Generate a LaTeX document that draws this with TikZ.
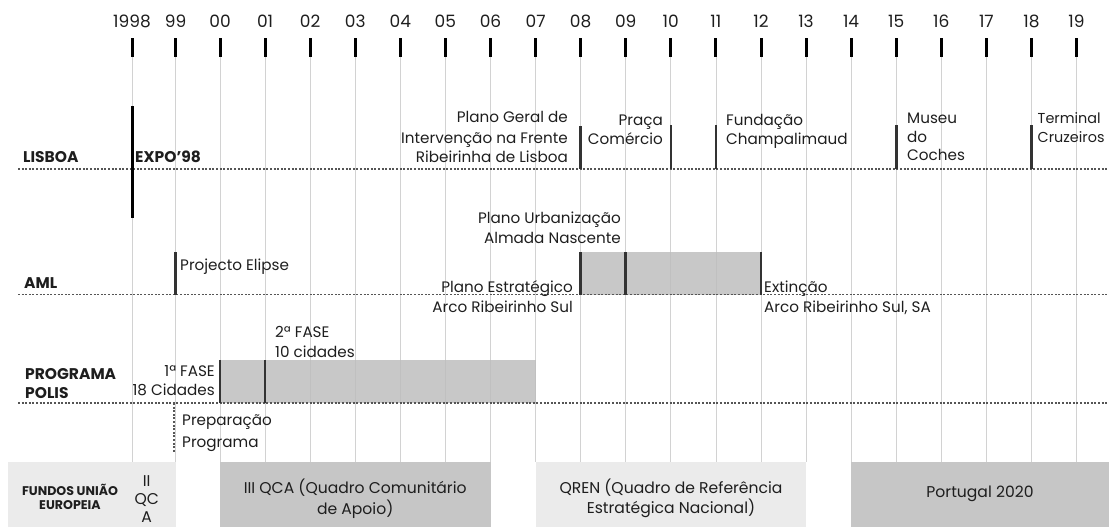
\documentclass[tikz,border=0pt]{standalone}
\usepackage{fontspec}
\setmainfont{Poppins}
\definecolor{ink}{HTML}{1E1E1E}
\definecolor{gridc}{HTML}{D2D2D2}
\definecolor{fillc}{HTML}{BEBEBE}
\definecolor{lightband}{HTML}{EBEBEB}
\definecolor{darkband}{HTML}{C6C6C6}
\definecolor{barc}{HTML}{333333}
\definecolor{rowc}{HTML}{555555}
\begin{document}
\begin{tikzpicture}[x=1pt,y=-1pt,
  gridline/.style={draw=gridc,line width=0.8pt},
  yeartick/.style={draw=black,line width=3pt},
  rowline/.style={draw=rowc,line width=1.1pt,dash pattern=on 2pt off 1.6pt},
  evbar/.style={draw=barc,line width=2.6pt},
  phase/.style={fill=fillc,fill opacity=0.85},
  txt/.style={inner sep=0pt,text=ink,font=\fontsize{15.2}{19}\selectfont},
  lbl/.style={inner sep=0pt,text=ink,font=\fontsize{15.5}{19}\selectfont\bfseries},
  yr/.style={inner sep=0pt,text=ink,font=\fontsize{17}{19}\selectfont},
  bandtxt/.style={inner sep=0pt,text=ink,font=\fontsize{15.6}{20.5}\selectfont,align=center},
  bandlbl/.style={inner sep=0pt,text=ink,font=\fontsize{12.6}{14}\selectfont\bfseries,align=center}]
\useasboundingbox (0,0) rectangle (1109,528);
% year grid, ticks and labels
\foreach \xx/\lab [count=\i] in {132/1998,175.5/99,220/00,265.1/01,310.2/02,355.2/03,400.3/04,445.4/05,490.5/06,535.6/07,580.6/08,625.7/09,670.8/10,715.9/11,761/12,806/13,851.1/14,896.2/15,941.3/16,986.4/17,1031.4/18,1076.5/19}{
  \draw[gridline] (\xx,57) -- (\xx,462);
  \draw[yeartick] (\xx,38) -- (\xx,57);
  \node[yr,anchor=base] (yr\i) at (\xx,27.5) {\lab};
}
% phase fills
\fill[phase] (580.6,252) rectangle (761,294.5);
\fill[phase] (220,360) rectangle (535.6,403);
% row lines
\draw[rowline] (18,169) -- (1109,169);
\draw[rowline] (18,294.5) -- (1109,294.5);
\draw[rowline] (18,403) -- (1109,403);
% LISBOA
\node[lbl,anchor=base west] (lisboa) at (23,162.5) {LISBOA};
\draw[draw=black,line width=3pt] (132,106) -- (132,218);
\node[lbl,anchor=base west] (expo) at (135,162.5) {EXPO'98};
\node[txt,anchor=base east] (pg1) at (568,122.5) {Plano Geral de};
\node[txt,anchor=base east] (pg2) at (568,143) {Intervenção na Frente};
\node[txt,anchor=base east] (pg3) at (568,162.5) {Ribeirinha de Lisboa};
\draw[evbar] (580.6,126) -- (580.6,169);
\node[txt,anchor=base east] (pc1) at (663,125.5) {Praça};
\node[txt,anchor=base east] (pc2) at (663,144.5) {Comércio};
\draw[evbar] (670.8,125) -- (670.8,169);
\draw[evbar] (715.9,125) -- (715.9,169);
\node[txt,anchor=base west] (fc1) at (726,125.5) {Fundação};
\node[txt,anchor=base west] (fc2) at (726,144.5) {Champalimaud};
\draw[evbar] (896.2,125) -- (896.2,169);
\node[txt,anchor=base west] (mc1) at (907,123.5) {Museu};
\node[txt,anchor=base west] (mc2) at (907,142) {do};
\node[txt,anchor=base west] (mc3) at (907,160.5) {Coches};
\draw[evbar] (1031.4,125) -- (1031.4,169);
\node[txt,anchor=base west,font=\fontsize{14.4}{19}\selectfont] (tc1) at (1037.5,123.5) {Terminal};
\node[txt,anchor=base west,font=\fontsize{14.4}{19}\selectfont] (tc2) at (1037.5,142) {Cruzeiros};
% AML
\node[lbl,anchor=base west] (aml) at (24,288.5) {AML};
\draw[evbar] (175.5,252) -- (175.5,294.5);
\node[txt,anchor=base west] (pe) at (180,270.5) {Projecto Elipse};
\draw[evbar] (580.6,252) -- (580.6,294.5);
\draw[evbar] (625.7,252) -- (625.7,294.5);
\draw[evbar] (761,252) -- (761,294.5);
\node[txt,anchor=base east] (pu1) at (621,223.5) {Plano Urbanização};
\node[txt,anchor=base east] (pu2) at (621,243.5) {Almada Nascente};
\node[txt,anchor=base east] (ps1) at (573,292.5) {Plano Estratégico};
\node[txt,anchor=base east] (ps2) at (573,312.5) {Arco Ribeirinho Sul};
\node[txt,anchor=base west] (ex1) at (764,292.5) {Extinção};
\node[txt,anchor=base west] (ex2) at (764,312.5) {Arco Ribeirinho Sul, SA};
% POLIS
\node[lbl,anchor=base west] (prog) at (25,379.5) {PROGRAMA};
\node[lbl,anchor=base west] (polis) at (25,398.5) {POLIS};
\draw[evbar] (220,360) -- (220,403);
\draw[evbar] (265.1,360) -- (265.1,403);
\node[txt,anchor=base east] (f1a) at (215,376.5) {1ª FASE};
\node[txt,anchor=base east] (f1b) at (215,395.5) {18 Cidades};
\node[txt,anchor=base west] (f2a) at (275,337.5) {2ª FASE};
\node[txt,anchor=base west] (f2b) at (275,357.5) {10 cidades};
\draw[rowline] (174,403) -- (174,452);
\node[txt,anchor=base west] (pp1) at (182,425.5) {Preparação};
\node[txt,anchor=base west] (pp2) at (182,447) {Programa};
% EU funds band
\fill[lightband] (8,462) rectangle (176,527);
\fill[darkband] (220,462) rectangle (490.5,527);
\fill[lightband] (535.6,462) rectangle (806,527);
\fill[darkband] (851.1,462) rectangle (1109,527);
\node[bandlbl] (fundos) at (70,497) {FUNDOS UNIÃO\\EUROPEIA};
\node[bandtxt,font=\fontsize{15.6}{18}\selectfont] (qca2) at (146.7,499.5) {II\\QC\\A};
\node[bandtxt] (qca3) at (355.2,498.5) {III QCA (Quadro Comunitário\\de Apoio)};
\node[bandtxt] (qren) at (671,498.5) {QREN (Quadro de Referência\\Estratégica Nacional)};
\node[bandtxt] (pt2020) at (980,494) {Portugal 2020};
\end{tikzpicture}
\end{document}
